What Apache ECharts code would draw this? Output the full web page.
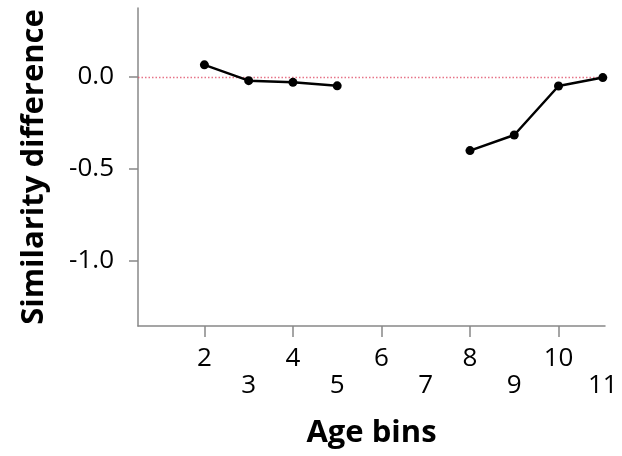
<!DOCTYPE html>
<html>
<head>
<meta charset="utf-8">
<script src="https://cdn.jsdelivr.net/npm/echarts@6/dist/echarts.min.js"></script>
<style>html,body{margin:0;padding:0;background:#fff}#c{width:622px;height:456px}</style>
</head>
<body>
<div id="c"></div>
<script>
const ageBins = [2, 3, 4, 5, 6, 7, 8, 9, 10, 11];
const simDiff = [0.066, -0.02, -0.029, -0.048, null, null, -0.40, -0.315, -0.049, -0.003];
const xTickValues = [2, 4, 6, 8, 10];
const xLabelValues = [2, 3, 4, 5, 6, 7, 8, 9, 10, 11];
const yTickValues = [-1.0, -0.5, 0.0];

const chart = echarts.init(document.getElementById('c'));
const font = '"Open Sans", "Noto Sans", sans-serif';
chart.setOption({
  animation: false,
  grid: { left: 138, right: 17, top: 8, bottom: 130, outerBoundsMode: 'none', containLabel: false },
  xAxis: {
    type: 'value', min: 0.5, max: 11.05,
    name: 'Age bins', nameLocation: 'middle', nameGap: 92,
    nameTextStyle: { fontFamily: font, fontSize: 31, fontWeight: 'bold', color: '#000' },
    axisLine: { show: true, onZero: false, lineStyle: { color: '#888', width: 1.5 } },
    axisTick: { show: true, customValues: xTickValues, length: 11, lineStyle: { color: '#888', width: 1.5 } },
    axisLabel: {
      customValues: xLabelValues, margin: 19, fontFamily: font, fontSize: 26, color: '#000', lineHeight: 27,
      formatter: v => (v % 2 === 1 ? '\n' + v : String(v))
    },
    splitLine: { show: false }
  },
  yAxis: {
    type: 'value', min: -1.353, max: 0.375,
    name: 'Similarity difference', nameLocation: 'middle', nameGap: 88,
    nameTextStyle: { fontFamily: font, fontSize: 31, fontWeight: 'bold', color: '#000' },
    axisLine: { show: true, onZero: false, lineStyle: { color: '#888', width: 1.5 } },
    axisTick: { show: true, customValues: yTickValues, length: 9, lineStyle: { color: '#888', width: 1.5 } },
    axisLabel: { customValues: yTickValues, margin: 24, fontFamily: font, fontSize: 26, color: '#000',
      formatter: v => v.toFixed(1) },
    splitLine: { show: false }
  },
  series: [{
    type: 'line',
    data: ageBins.map((x, i) => [x, simDiff[i]]),
    connectNulls: false,
    symbol: 'circle', symbolSize: 9,
    lineStyle: { color: '#000', width: 2.5 },
    itemStyle: { color: '#000' },
    z: 3,
    markLine: {
      silent: true, symbol: 'none', label: { show: false }, z: 1,
      lineStyle: { color: '#e0506a', type: [1.5, 2], width: 1.3, opacity: 0.8 },
      emphasis: { disabled: true },
      data: [{ yAxis: 0 }]
    }
  }]
});
</script>
</body>
</html>
